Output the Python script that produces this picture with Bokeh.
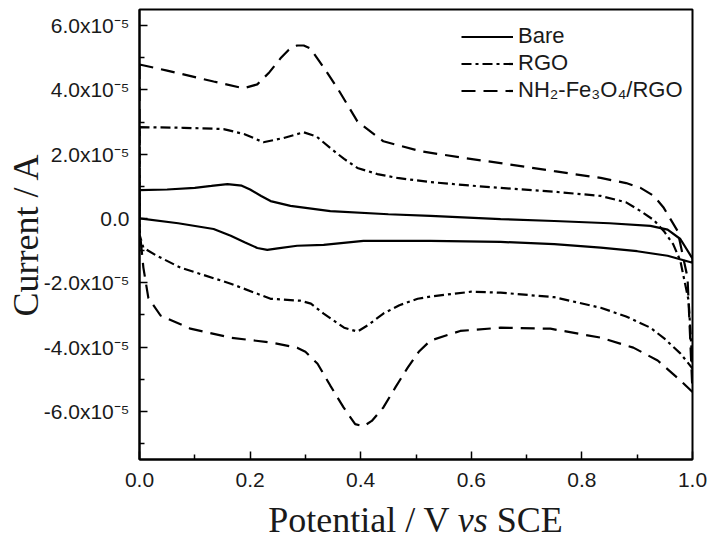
from bokeh.plotting import figure
from bokeh.layouts import column
from bokeh.models import (FixedTicker, CustomJSTickFormatter, Legend, LegendItem,
                          ColumnDataSource, Range1d, Div)
from bokeh.embed import file_html
from bokeh.resources import INLINE

# ---------------- data (potential in V, current in units of 1e-5 A) ----------------
bare_up_x = [0.0, 0.05, 0.10, 0.13, 0.159, 0.185, 0.20, 0.22, 0.237, 0.273, 0.345, 0.45, 0.526, 0.653, 0.75, 0.85,
             0.924, 0.955, 0.978, 1.0]
bare_up_y = [0.88, 0.90, 0.95, 1.01, 1.07, 1.02, 0.90, 0.70, 0.54, 0.39, 0.23, 0.13, 0.08, -0.02, -0.08, -0.15,
             -0.23, -0.35, -0.64, -1.25]
bare_dn_x = [1.0, 0.955, 0.90, 0.834, 0.75, 0.653, 0.526, 0.405, 0.333, 0.285, 0.25, 0.231, 0.213, 0.19, 0.165,
             0.134, 0.07, 0.0]
bare_dn_y = [-1.38, -1.16, -1.02, -0.91, -0.80, -0.73, -0.70, -0.70, -0.82, -0.85, -0.93, -0.98, -0.92, -0.74, -0.54,
             -0.33, -0.15, 0.0]

rgo_up_x = [0.0, 0.08, 0.152, 0.19, 0.224, 0.26, 0.297, 0.32, 0.345, 0.37, 0.394, 0.43, 0.466, 0.526, 0.6, 0.653,
            0.75, 0.834, 0.88, 0.906, 0.93, 0.948, 0.965, 0.978, 0.993, 1.0]
rgo_up_y = [2.84, 2.82, 2.78, 2.62, 2.37, 2.50, 2.68, 2.55, 2.19, 1.85, 1.57, 1.38, 1.26, 1.13, 1.02, 0.95,
            0.83, 0.70, 0.50, 0.23, -0.05, -0.39, -0.80, -1.32, -2.56, -4.60]
rgo_dn_x = [1.0, 0.978, 0.95, 0.924, 0.88, 0.834, 0.75, 0.653, 0.6, 0.526, 0.503, 0.47, 0.441, 0.415, 0.394, 0.37,
            0.333, 0.31, 0.291, 0.237, 0.165, 0.074, 0.03, 0.007, 0.0]
rgo_dn_y = [-4.67, -4.20, -3.75, -3.40, -3.05, -2.78, -2.45, -2.31, -2.28, -2.43, -2.50, -2.70, -2.96, -3.30, -3.52, -3.40,
            -2.96, -2.65, -2.56, -2.50, -2.03, -1.53, -1.15, -0.91, -0.50]

nh2_up_x = [0.0, 0.05, 0.134, 0.188, 0.213, 0.235, 0.255, 0.27, 0.285, 0.297, 0.309, 0.335, 0.358, 0.394, 0.441,
            0.508, 0.58, 0.653, 0.75, 0.834, 0.88, 0.906, 0.93, 0.948, 0.973, 0.991, 1.0]
nh2_up_y = [4.79, 4.60, 4.26, 4.05, 4.17, 4.55, 4.98, 5.25, 5.38, 5.38, 5.29, 4.65, 4.05, 3.02, 2.40,
            2.09, 1.90, 1.72, 1.47, 1.26, 1.10, 0.95, 0.70, 0.33, -0.39, -1.84, -5.40]
nh2_dn_x = [1.0, 0.978, 0.937, 0.893, 0.834, 0.743, 0.653, 0.58, 0.526, 0.505, 0.485, 0.463, 0.441, 0.42, 0.405,
            0.39, 0.369, 0.345, 0.322, 0.30, 0.285, 0.237, 0.165, 0.092, 0.038, 0.016, 0.007, 0.0]
nh2_dn_y = [-5.40, -5.04, -4.42, -4.02, -3.71, -3.43, -3.40, -3.50, -3.80, -4.15, -4.64, -5.25, -5.88, -6.30, -6.47,
            -6.40, -5.88, -5.20, -4.52, -4.15, -4.02, -3.86, -3.71, -3.43, -3.02, -2.47, -1.53, -0.30]
CURRENT_UNIT = 1e-5

series_names = ["Bare", "RGO", "NH\u2082-Fe\u2083O\u2084/RGO"]
x_ticks = [0.0, 0.2, 0.4, 0.6, 0.8, 1.0]
x_minor = [0.1, 0.3, 0.5, 0.7, 0.9]
y_ticks = [-6e-5, -4e-5, -2e-5, 0.0, 2e-5, 4e-5, 6e-5]
y_minor = [-7e-5, -5e-5, -3e-5, -1e-5, 1e-5, 3e-5, 5e-5]
y_title = "Current / A"
x_title_html = "Potential / V <i>vs</i> SCE"

# ---------------- layout ----------------
XR = (0.0, 1.0)
YR = (-7.5e-5, 6.5e-5)
FL, FT, FW, FH, FR, FB = 139, 9, 553, 450, 20, 45
TITLE_FS = "36px"

p = figure(frame_width=FW, frame_height=FH, output_backend="svg", toolbar_location=None,
           x_range=Range1d(*XR), y_range=Range1d(*YR),
           min_border_left=FL, min_border_top=FT, min_border_right=FR, min_border_bottom=FB,
           background_fill_color="white", border_fill_color="white")
p.grid.visible = False
p.outline_line_color = "black"
p.outline_line_width = 2
p.outline_line_alpha = 1.0

for ax in (p.xaxis[0], p.yaxis[0]):
    ax.axis_line_width = 2
    ax.major_tick_in = 8
    ax.major_tick_out = 0
    ax.minor_tick_in = 5
    ax.minor_tick_out = 0
    ax.major_tick_line_width = 1.5
    ax.minor_tick_line_width = 1.5
    ax.major_label_text_font = "Liberation Sans"
    ax.major_label_text_font_size = "21px"
    ax.major_label_text_color = "#1a1a1a"

p.xaxis.ticker = FixedTicker(ticks=x_ticks, minor_ticks=x_minor)
p.yaxis.ticker = FixedTicker(ticks=y_ticks, minor_ticks=y_minor)
p.xaxis.major_label_standoff = 13
p.yaxis.major_label_standoff = 10
p.xaxis.formatter = CustomJSTickFormatter(code="return tick.toFixed(1);")
p.yaxis.formatter = CustomJSTickFormatter(code="""
if (Math.abs(tick) < 1e-12) { return "0.0"; }
return (tick * 1e5).toFixed(1) + "x10\u207b\u2075";
""")

p.yaxis.axis_label = y_title
p.yaxis.axis_label_text_font = "Liberation Serif"
p.yaxis.axis_label_text_font_style = "normal"
p.yaxis.axis_label_text_font_size = TITLE_FS
p.yaxis.axis_label_text_color = "#1a1a1a"
p.yaxis.axis_label_standoff = -5

def loop(ux, uy, dx, dy):
    xs = ux + dx + ux[:1]
    ys = [v * CURRENT_UNIT for v in uy + dy + uy[:1]]
    return ColumnDataSource(dict(x=xs, y=ys))

styles = [dict(line_dash="solid"), dict(line_dash="10 4 3 4"), dict(line_dash="14 8")]
data = [(bare_up_x, bare_up_y, bare_dn_x, bare_dn_y),
        (rgo_up_x, rgo_up_y, rgo_dn_x, rgo_dn_y),
        (nh2_up_x, nh2_up_y, nh2_dn_x, nh2_dn_y)]
renderers = []
for d, st in zip(data, styles):
    r = p.line("x", "y", source=loop(*d), line_color="black", line_width=2.2, **st)
    renderers.append(r)

legend = Legend(items=[LegendItem(label=n, renderers=[r]) for n, r in zip(series_names, renderers)],
                location=(322, 356),
                glyph_width=52, glyph_height=21, label_height=21, spacing=1, padding=0, margin=0,
                label_standoff=5, label_text_font="Liberation Sans", label_text_font_size="22px",
                label_text_color="#1a1a1a",
                border_line_color=None, background_fill_alpha=0)
p.add_layout(legend)

frame_center = FL + FW / 2
total_w = FL + FW + FR
pad_left = int(round(2 * frame_center - total_w))
div = Div(text=x_title_html, width=total_w, height=40, margin=(0, 0, 0, 0),
          styles={"font-family": "Liberation Serif", "font-size": TITLE_FS, "line-height": "33px",
                  "color": "#1a1a1a", "text-align": "center", "padding-left": f"{pad_left}px",
                  "box-sizing": "border-box", "width": f"{total_w}px", "white-space": "nowrap"})

layout = column(p, div, spacing=0)
open("out.html", "w").write(file_html(layout, INLINE))
